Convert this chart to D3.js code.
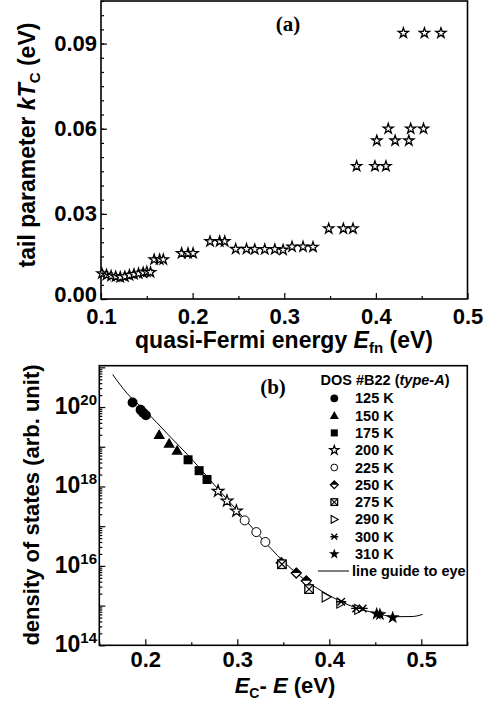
<!DOCTYPE html>
<html>
<head>
<meta charset="utf-8">
<script src="https://cdn.jsdelivr.net/npm/d3@7"></script>
<style>
  body { margin: 0; background: #fff; }
  svg { display: block; font-family: "Liberation Sans", Arial, sans-serif; font-weight: bold; }
</style>
</head>
<body>
<div class="chart"></div>
<script>
// ======= data: panel (a) =======
var efn = [0.101, 0.106, 0.111, 0.116, 0.121, 0.126, 0.131, 0.136, 0.141, 0.146, 0.150, 0.154,
           0.158, 0.164, 0.168,
           0.188, 0.195, 0.2005,
           0.219, 0.2295, 0.235,
           0.247, 0.2588, 0.2678,
           0.2787, 0.2897, 0.2987,
           0.3085, 0.3205, 0.3314,
           0.3485, 0.3645, 0.375,
           0.379, 0.399, 0.411,
           0.401, 0.421, 0.436,
           0.4135, 0.438, 0.452,
           0.430, 0.453, 0.471];
var kTc = [0.0090, 0.0085, 0.0081, 0.0079, 0.0077, 0.0079, 0.0084, 0.0087, 0.0090, 0.0093, 0.0096, 0.0094,
           0.0139, 0.0139, 0.0139,
           0.0161, 0.0161, 0.0161,
           0.0203, 0.0203, 0.0203,
           0.0176, 0.0176, 0.0175,
           0.0175, 0.0175, 0.0173,
           0.0184, 0.0184, 0.0183,
           0.0248, 0.0248, 0.0248,
           0.0468, 0.0468, 0.0468,
           0.0558, 0.0558, 0.0558,
           0.0600, 0.0600, 0.0600,
           0.0937, 0.0937, 0.0937];
var xTicksA = [0.1, 0.2, 0.3, 0.4, 0.5];
var yTicksA = [0.00, 0.03, 0.06, 0.09];

// ======= data: panel (b) =======
var temps = ["125 K", "150 K", "175 K", "200 K", "225 K", "250 K", "275 K", "290 K", "300 K", "310 K"];
var markers = ["circle", "triangle", "square", "starOpen", "circleOpen", "diamondHalf", "squareX", "triangleRight", "asterisk", "star"];
var ecE = [
  [0.1862, 0.1949, 0.1977, 0.2007],
  [0.2151, 0.2259, 0.2346],
  [0.2465, 0.2585, 0.2671],
  [0.2791, 0.2888, 0.2990],
  [0.3080, 0.3207, 0.3305],
  [0.3478, 0.3641, 0.3750],
  [0.3485, 0.3780],
  [0.3966, 0.4125, 0.4320],
  [0.4129, 0.4292, 0.4363],
  [0.4515, 0.4550, 0.4689]
];
var dos = [
  [1.3e20, 8.5e19, 7.2e19, 6.2e19],
  [2.0e19, 1.2e19, 8.1e18],
  [4.7e18, 2.5e18, 1.5e18],
  [7.6e17, 4.3e17, 2.4e17],
  [1.4e17, 7.1e16, 4.0e16],
  [1.2e16, 6.6e15, 4.2e15],
  [1.1e16, 2.6e15],
  [1.65e15, 1.15e15, 8.0e14],
  [1.25e15, 8.5e14, 8.5e14],
  [6.2e14, 6.0e14, 5.0e14]
];
var guideE = [0.1645, 0.18, 0.2, 0.225, 0.25, 0.275, 0.3, 0.325, 0.35, 0.375, 0.4, 0.425, 0.45, 0.47, 0.49, 0.5014];
var guideDos = [6.6e20, 2.24e20, 8.1e19, 2.0e19, 5.0e18, 1.1e18, 2.45e17, 5.4e16, 1.3e16, 4.2e15, 1.8e15, 9.5e14, 6.5e14, 5.25e14, 5.3e14, 6.0e14];
var xTicksB = [0.2, 0.3, 0.4, 0.5];
var yDecadesB = [14, 15, 16, 17, 18, 19, 20, 21];

var width = 489;
var height = 706;

var svg = d3.select(".chart")
  .append("svg")
    .attr("width", width)
    .attr("height", height);

// ======= panel (a) =======
var xA = d3.scaleLinear().domain([0.1, 0.5]).range([101, 467.5]);
var yA = d3.scaleLinear().domain([0, 0.105]).range([299, 1]);

var gA = svg.append("g").attr("class", "panelA");

gA.append("g")
    .attr("transform", "translate(0,299)")
    .call(d3.axisBottom(xA).tickValues(d3.range(0.15, 0.5, 0.1)).tickSize(-3).tickSizeOuter(0).tickFormat(""));
gA.append("g")
    .attr("class", "tickLab")
    .attr("transform", "translate(0,299)")
    .call(d3.axisBottom(xA).tickValues(xTicksA).tickSize(-6).tickSizeOuter(0).tickPadding(9).tickFormat(d3.format(".1f")));
gA.append("g")
    .attr("transform", "translate(101,0)")
    .call(d3.axisLeft(yA).tickValues(d3.range(0, 0.1051, 0.005)).tickSize(-3).tickSizeOuter(0).tickFormat(""));
gA.append("g")
    .attr("class", "tickLab yA")
    .attr("transform", "translate(101,0)")
    .call(d3.axisLeft(yA).tickValues(yTicksA).tickSize(-6).tickSizeOuter(0).tickPadding(4).tickFormat(d3.format(".2f")));

gA.append("rect")
    .attr("x", 101).attr("y", 1)
    .attr("width", 366.5).attr("height", 298)
    .attr("fill", "none").attr("stroke", "#000").attr("stroke-width", 1.6);

var starPath = d3.symbol().type(d3.symbolStar).size(32)();
gA.selectAll(".starA")
    .data(efn)
  .enter().append("path")
    .attr("class", "starA")
    .attr("transform", function(d, i) { return "translate(" + xA(d) + "," + yA(kTc[i]) + ")"; })
    .attr("d", starPath)
    .attr("fill", "#fff").attr("stroke", "#000").attr("stroke-width", 1.3);

gA.append("text")
    .attr("x", 288).attr("y", 31)
    .attr("text-anchor", "middle")
    .style("font-family", "'Liberation Serif', 'Times New Roman', serif")
    .style("font-size", "21px")
    .text("(a)");

var tA = gA.append("text")
    .attr("x", 284).attr("y", 348)
    .attr("text-anchor", "middle")
    .style("font-size", "23px");
tA.append("tspan").text("quasi-Fermi energy ");
tA.append("tspan").style("font-style", "italic").text("E");
tA.append("tspan").attr("dy", 5).style("font-size", "15px").text("fn");
tA.append("tspan").attr("dy", -5).text("  (eV)");

var tyA = gA.append("text")
    .attr("transform", "translate(35,145) rotate(-90)")
    .attr("text-anchor", "middle")
    .style("font-size", "23px");
tyA.append("tspan").text("tail parameter ");
tyA.append("tspan").style("font-style", "italic").text("kT");
tyA.append("tspan").attr("dy", 5).style("font-size", "15px").text("C");
tyA.append("tspan").attr("dy", -5).text(" (eV)");

// ======= panel (b) =======
var xB = d3.scaleLinear().domain([0.15, 0.55]).range([99.3, 467.3]);
var yB = d3.scaleLog().domain([1e14, 1.1e21]).range([645.3, 365.7]);

var gB = svg.append("g").attr("class", "panelB");

gB.append("g")
    .attr("transform", "translate(0,645.3)")
    .call(d3.axisBottom(xB).tickValues(d3.range(0.15, 0.56, 0.1)).tickSize(-3).tickSizeOuter(0).tickFormat(""));
gB.append("g")
    .attr("class", "tickLab")
    .attr("transform", "translate(0,645.3)")
    .call(d3.axisBottom(xB).tickValues(xTicksB).tickSize(-6).tickSizeOuter(0).tickPadding(6).tickFormat(d3.format(".1f")));

var minorB = [];
yDecadesB.forEach(function(e) {
    for (var k = 2; k <= 9; k++) {
        var v = k * Math.pow(10, e);
        if (v < 1.1e21) minorB.push(v);
    }
});
gB.append("g")
    .attr("transform", "translate(99.3,0)")
    .call(d3.axisLeft(yB).tickValues(minorB).tickSize(-3).tickSizeOuter(0).tickFormat(""));
gB.append("g")
    .attr("transform", "translate(99.3,0)")
    .call(d3.axisLeft(yB).tickValues(yDecadesB.map(function(e) { return Math.pow(10, e); })).tickSize(-6).tickSizeOuter(0).tickFormat(""));

gB.selectAll(".yLabB")
    .data(yDecadesB.filter(function(e) { return e % 2 === 0; }))
  .enter().append("text")
    .attr("class", "yLabB")
    .attr("x", 97)
    .attr("y", function(e) { return yB(Math.pow(10, e)) + 7; })
    .attr("text-anchor", "end")
    .style("font-size", "23px")
    .each(function(e) {
        var t = d3.select(this);
        t.append("tspan").text("10");
        t.append("tspan").attr("dy", -9).style("font-size", "15px").text(e);
    });

gB.append("rect")
    .attr("x", 99.3).attr("y", 365.7)
    .attr("width", 368).attr("height", 279.6)
    .attr("fill", "none").attr("stroke", "#000").attr("stroke-width", 1.6);

var line = d3.line()
    .x(function(d, i) { return xB(d); })
    .y(function(d, i) { return yB(guideDos[i]); })
    .curve(d3.curveMonotoneX);

gB.append("path")
    .attr("d", line(guideE))
    .attr("fill", "none").attr("stroke", "#000").attr("stroke-width", 1);

function marker(g, kind, r) {
    var sym = d3.symbol();
    if (kind === "circle") {
        g.append("circle").attr("r", r).attr("fill", "#000");
    } else if (kind === "circleOpen") {
        g.append("circle").attr("r", r - 0.5).attr("fill", "#fff").attr("stroke", "#000").attr("stroke-width", 1);
    } else if (kind === "triangle") {
        g.append("path").attr("d", "M0," + (-r * 1.15) + "L" + (r * 1.15) + "," + (r * 0.85) + "L" + (-r * 1.15) + "," + (r * 0.85) + "Z").attr("fill", "#000");
    } else if (kind === "square") {
        g.append("rect").attr("x", -r * 0.9).attr("y", -r * 0.9).attr("width", r * 1.8).attr("height", r * 1.8).attr("fill", "#000");
    } else if (kind === "starOpen") {
        g.append("path").attr("d", sym.type(d3.symbolStar).size(r * r * 1.7)()).attr("fill", "#fff").attr("stroke", "#000").attr("stroke-width", 1.2);
    } else if (kind === "star") {
        g.append("path").attr("d", sym.type(d3.symbolStar).size(r * r * 2.3)()).attr("fill", "#000");
    } else if (kind === "diamondHalf") {
        g.append("path").attr("d", "M0," + (-r) + "L" + r + ",0L0," + r + "L" + (-r) + ",0Z").attr("fill", "#fff").attr("stroke", "#000").attr("stroke-width", 1.3);
        g.append("path").attr("d", "M0," + (-r) + "L" + r + ",0L" + (-r) + ",0Z").attr("fill", "#000");
    } else if (kind === "squareX") {
        var s = r * 0.85;
        g.append("rect").attr("x", -s).attr("y", -s).attr("width", 2 * s).attr("height", 2 * s).attr("fill", "#fff").attr("stroke", "#000").attr("stroke-width", 1.3);
        g.append("path").attr("d", "M" + (-s) + "," + (-s) + "L" + s + "," + s + "M" + s + "," + (-s) + "L" + (-s) + "," + s).attr("stroke", "#000").attr("stroke-width", 1.1);
    } else if (kind === "triangleRight") {
        g.append("path").attr("d", "M" + (-r * 0.8) + "," + (-r) + "L" + r + ",0L" + (-r * 0.8) + "," + r + "Z").attr("fill", "#fff").attr("stroke", "#000").attr("stroke-width", 1.1);
    } else if (kind === "asterisk") {
        var a = r * 0.75;
        g.append("path").attr("d", "M" + (-r) + ",0L" + r + ",0M" + (-a) + "," + (-a) + "L" + a + "," + a + "M" + a + "," + (-a) + "L" + (-a) + "," + a)
            .attr("stroke", "#000").attr("stroke-width", 1.4);
    }
}

temps.forEach(function(t, k) {
    ecE[k].forEach(function(e, j) {
        var g = gB.append("g").attr("transform", "translate(" + xB(e) + "," + yB(dos[k][j]) + ")");
        marker(g, markers[k], 5);
    });
});

gB.append("text")
    .attr("x", 273).attr("y", 394)
    .attr("text-anchor", "middle")
    .style("font-family", "'Liberation Serif', 'Times New Roman', serif")
    .style("font-size", "21px")
    .text("(b)");

// legend
var legend = gB.append("g").attr("class", "legend");
var lt = legend.append("text")
    .attr("x", 385).attr("y", 385)
    .attr("text-anchor", "middle")
    .style("font-size", "14.5px");
lt.append("tspan").text("DOS #B22 (");
lt.append("tspan").style("font-style", "italic").text("type-A");
lt.append("tspan").text(")");

temps.forEach(function(t, k) {
    var yy = 398.3 + k * 17.3;
    var g = legend.append("g").attr("transform", "translate(334.3," + yy + ")");
    marker(g, markers[k], 3.9);
    legend.append("text")
        .attr("x", 355).attr("y", yy + 5)
        .style("font-size", "14.5px")
        .text(t);
});
legend.append("line")
    .attr("x1", 318).attr("x2", 349)
    .attr("y1", 571).attr("y2", 571)
    .attr("stroke", "#000").attr("stroke-width", 1);
legend.append("text")
    .attr("x", 352).attr("y", 576)
    .style("font-size", "14.5px")
    .text("line guide to eye");

var tB = gB.append("text")
    .attr("x", 285).attr("y", 693)
    .attr("text-anchor", "middle")
    .style("font-size", "22px");
tB.append("tspan").style("font-style", "italic").text("E");
tB.append("tspan").attr("dy", 5).style("font-size", "14px").text("C");
tB.append("tspan").attr("dy", -5).text("- ");
tB.append("tspan").style("font-style", "italic").text("E");
tB.append("tspan").text(" (eV)");

var tyB = gB.append("text")
    .attr("transform", "translate(39,505) rotate(-90)")
    .attr("text-anchor", "middle")
    .style("font-size", "22px")
    .text("density of states (arb. unit)");

// tick label style
svg.selectAll(".tickLab text").style("font-size", "22px").style("font-family", "'Liberation Sans', Arial, sans-serif").style("font-weight", "bold").attr("fill", "#000");
// lift the 0.00 label a bit so it clears the 0.1 label below it
svg.selectAll(".yA .tick text").filter(function(d) { return d === 0; }).attr("dy", "0.1em");
svg.selectAll(".domain").remove();
svg.selectAll(".tick line").attr("stroke", "#000").attr("stroke-width", 1.2);
</script>
</body>
</html>
